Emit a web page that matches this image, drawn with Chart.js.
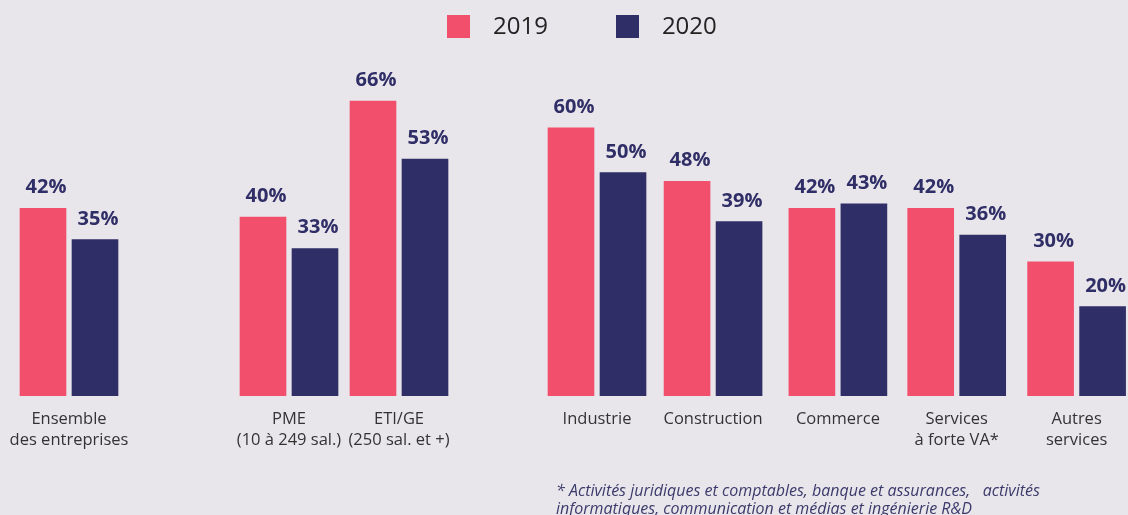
<!DOCTYPE html>
<html lang="fr">
<head>
<meta charset="UTF-8">
<title>2019 / 2020</title>
<script src="https://cdn.jsdelivr.net/npm/chart.js"></script>
<style>
  html, body { margin: 0; padding: 0; background: #e8e6eb; }
  body { font-family: 'Open Sans', sans-serif; }
  .wrap { position: relative; width: 1128px; height: 515px; overflow: hidden; }
  .legend { position: absolute; left: 447px; top: 11px; display: flex; align-items: center; }
  .legend .item { display: flex; align-items: center; margin-right: 68px; }
  .legend .box { width: 23px; height: 23px; margin-right: 23px; margin-top: 4px; }
  .legend .txt { font-size: 24px; color: #222; line-height: 27px; }
  .note { position: absolute; left: 556px; top: 481px; font-size: 16px; font-style: italic;
          color: #3b3a6b; line-height: 18px; white-space: pre; }
</style>
</head>
<body>
<div class="wrap">
  <canvas id="chart"></canvas>
  <div class="legend" id="legend"></div>
  <div class="note">* Activités juridiques et comptables, banque et assurances,   activités
informatiques, communication et médias et ingénierie R&amp;D</div>
</div>
<script>
const categories = [
  ['Ensemble', 'des entreprises'],
  ['PME', '(10 à 249 sal.)'],
  ['ETI/GE', '(250 sal. et +)'],
  'Industrie',
  'Construction',
  'Commerce',
  ['Services', 'à forte VA*'],
  ['Autres', 'services']
];
const seriesNames = ['2019', '2020'];
const values2019 = [42, 40, 66, 60, 48, 42, 42, 30];
const values2020 = [35, 33, 53, 50, 39, 43, 36, 20];

// layout: slot of each category along the x axis (gaps between groups)
const slotPos = [0, 2, 3, 4.8, 5.855, 6.99, 8.07, 9.16];
const colors = ['#f24f6d', '#302e66'];

// legend in html
const legendEl = document.getElementById('legend');
seriesNames.forEach((name, i) => {
  const it = document.createElement('div');
  it.className = 'item';
  it.innerHTML = '<span class="box" style="background:' + colors[i] + '"></span><span class="txt">' + name + '</span>';
  legendEl.appendChild(it);
});

const valueLabels = {
  id: 'valueLabels',
  afterDatasetsDraw(chart) {
    const ctx = chart.ctx;
    ctx.save();
    ctx.font = 'bold 20px "Open Sans", sans-serif';
    ctx.fillStyle = '#302e66';
    ctx.textAlign = 'center';
    ctx.textBaseline = 'alphabetic';
    chart.data.datasets.forEach((ds, di) => {
      chart.getDatasetMeta(di).data.forEach((bar, i) => {
        ctx.fillText(ds.data[i].y + '%', bar.x + 3, bar.y - 15);
      });
    });
    ctx.restore();
  }
};

const toPoints = vals => vals.map((v, i) => ({ x: slotPos[i], y: v }));

new Chart(document.getElementById('chart'), {
  type: 'bar',
  data: {
    datasets: [
      { label: seriesNames[0], data: toPoints(values2019), backgroundColor: colors[0] },
      { label: seriesNames[1], data: toPoints(values2020), backgroundColor: colors[1] }
    ]
  },
  options: {
    responsive: true,
    maintainAspectRatio: false,
    animation: false,
    layout: { padding: 0 },
    barThickness: 52,
    maxBarThickness: 46,
    plugins: { legend: { display: false }, tooltip: { enabled: false } },
    scales: {
      x: {
        type: 'linear',
        offset: false,
        min: -69 / 110,
        max: -69 / 110 + 1128 / 110,
        grid: { display: false, drawTicks: false },
        border: { display: false },
        afterBuildTicks: s => { s.ticks = slotPos.map(v => ({ value: v })); },
        afterFit: s => { s.height = 119; s.paddingLeft = 0; s.paddingRight = 0; },
        ticks: {
          autoSkip: false,
          maxRotation: 0,
          padding: 13,
          color: '#333',
          font: { family: '"Open Sans", sans-serif', size: 16.5, lineHeight: 1.27 },
          callback: (v, i) => categories[i]
        }
      },
      y: { display: false, min: 0, max: 396 / 4.47 }
    }
  },
  plugins: [valueLabels]
});
</script>
</body>
</html>
